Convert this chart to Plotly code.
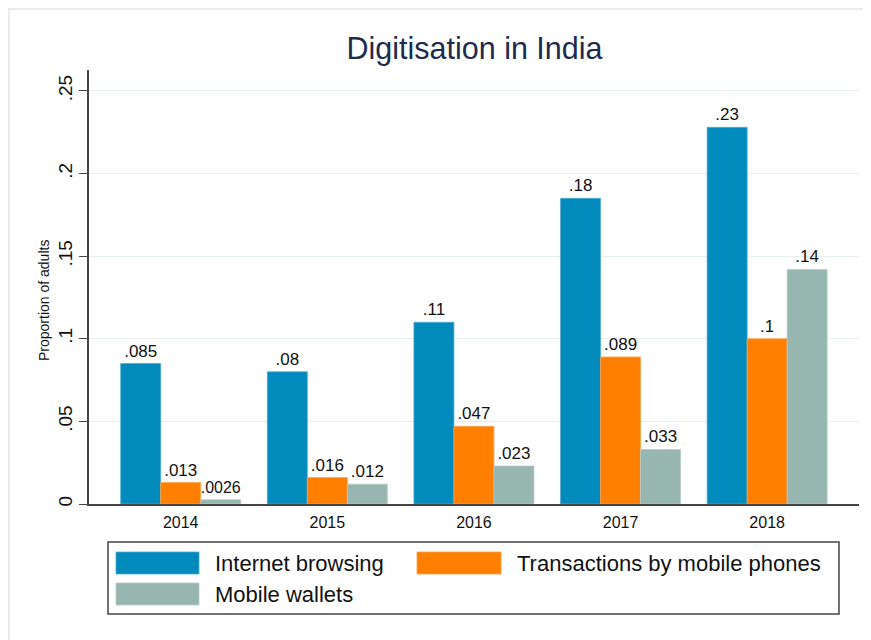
import plotly.graph_objects as go

# ---- data ----
years = ["2014", "2015", "2016", "2017", "2018"]
internet = [0.085, 0.080, 0.110, 0.185, 0.228]
transactions = [0.013, 0.016, 0.047, 0.089, 0.100]
wallets = [0.0026, 0.012, 0.023, 0.033, 0.142]
internet_lbl = [".085", ".08", ".11", ".18", ".23"]
transactions_lbl = [".013", ".016", ".047", ".089", ".1"]
wallets_lbl = [".0026", ".012", ".023", ".033", ".14"]
y_ticks = [0, 0.05, 0.10, 0.15, 0.20, 0.25]
y_ticklbl = ["0", ".05", ".1", ".15", ".2", ".25"]
series_names = ["Internet browsing", "Transactions by mobile phones", "Mobile wallets"]

colors = ["#008BBC", "#FF7F00", "#98B6B0"]
edges = ["#4FA9CF", "#FFA04A", "#B5CBC6"]

W, H = 871, 640
OFF = 8  # page body margin offset
# plot area in screen (reference) pixels
SX0, SX1, SY0, SY1 = 89, 859, 70, 504
L = SX0 - OFF
R = W - (SX1 - OFF)
T = SY0 - OFF
B = H - (SY1 - OFF)
PW, PH = W - L - R, H - T - B

def px_x(x):
    # screen x -> paper
    return (x - SX0) / PW

def px_y(y):
    # screen y -> paper
    return (SY1 - y) / PH

FONT = "Liberation Sans, Arial, sans-serif"
xpos = list(range(len(years)))

fig = go.Figure()
for vals, lbls, name, c, e in zip([internet, transactions, wallets],
                                  [internet_lbl, transactions_lbl, wallets_lbl],
                                  series_names, colors, edges):
    fig.add_trace(go.Bar(
        x=xpos, y=vals, name=name, text=lbls, textposition="outside",
        textfont=dict(size=17, color="#111111", family=FONT),
        marker=dict(color=c, line=dict(color=e, width=0.8)),
        cliponaxis=False, showlegend=False,
    ))

shapes = [
    # outer light frame (figure edge)
    dict(type="rect", xref="paper", yref="paper",
         x0=px_x(OFF + 1), x1=px_x(W + OFF + 20), y0=px_y(H + OFF + 20), y1=px_y(OFF + 1),
         line=dict(color="#E6ECEC", width=2), fillcolor="rgba(0,0,0,0)", layer="below"),
    # legend box
    dict(type="rect", xref="paper", yref="paper",
         x0=px_x(108), x1=px_x(839), y0=px_y(614), y1=px_y(542),
         line=dict(color="#444444", width=1.5), fillcolor="white"),
]
swatches = [(116, 552, 199, 574), (417, 552, 501, 574), (116, 583, 199, 605)]
text_pos = [(213, 563), (515, 563), (213, 594)]
annotations = []
for (x0, y0, x1, y1), c, e, (tx, ty), name in zip(swatches, colors, edges, text_pos, series_names):
    shapes.append(dict(type="rect", xref="paper", yref="paper",
                       x0=px_x(x0), x1=px_x(x1), y0=px_y(y1), y1=px_y(y0),
                       line=dict(color=e, width=0.8), fillcolor=c))
    annotations.append(dict(text=name, xref="paper", yref="paper",
                            x=px_x(tx), y=px_y(ty), xanchor="left", yanchor="middle",
                            showarrow=False, font=dict(size=22, color="#111111", family=FONT)))

annotations.append(dict(text="Proportion of adults", xref="paper", yref="paper",
                        x=px_x(44), y=px_y(301), xanchor="center", yanchor="middle",
                        textangle=-90, showarrow=False,
                        font=dict(size=14, color="#111111", family=FONT)))

fig.update_layout(
    width=W, height=H,
    margin=dict(l=L, r=R, t=T, b=B, pad=0),
    paper_bgcolor="white", plot_bgcolor="white",
    barmode="group", bargap=0.1815, bargroupgap=0,
    title=dict(text="Digitisation in India", x=(474.5 - OFF) / W, xanchor="center",
               y=1 - (48 - OFF) / H, yanchor="middle",
               font=dict(size=30.5, color="#1C2B4F", family=FONT)),
    shapes=shapes, annotations=annotations,
    font=dict(family=FONT, color="#111111"),
)
fig.update_xaxes(
    range=[-0.6255, 4.6265], tickvals=xpos, ticktext=years,
    showline=True, linecolor="#444444", linewidth=1.5,
    showgrid=False, zeroline=False, ticks="", ticklabelstandoff=3,
    tickfont=dict(size=16, color="#111111", family=FONT),
)
fig.update_yaxes(
    range=[0, 0.2627], tickvals=y_ticks, ticktext=y_ticklbl,
    showline=True, linecolor="#444444", linewidth=1.5,
    showgrid=True, gridcolor="#E6EEF0", gridwidth=1.2, zeroline=False,
    ticks="outside", ticklen=8, tickcolor="#444444", tickwidth=1.2, tickangle=-90,
    tickfont=dict(size=19, color="#111111", family=FONT),
)

fig.write_html("out.html")
